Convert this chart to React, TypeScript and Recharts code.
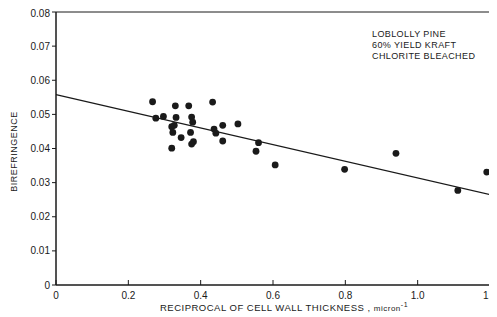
import {
  ScatterChart,
  Scatter,
  XAxis,
  YAxis,
  ReferenceLine,
  ReferenceArea,
  Label,
} from 'recharts'

// reciprocal of cell wall thickness (micron^-1) vs birefringence
const recipThickness = [
  0.267, 0.276, 0.297, 0.33, 0.367, 0.433, 0.332, 0.375, 0.378, 0.32, 0.327, 0.323, 0.346,
  0.372, 0.38, 0.375, 0.32, 0.437, 0.442, 0.461, 0.503, 0.461, 0.56, 0.553, 0.606, 0.798,
  0.94, 1.191, 1.111,
]
const birefringence = [
  0.0537, 0.0489, 0.0494, 0.0525, 0.0525, 0.0536, 0.0491, 0.0492, 0.0477, 0.0464, 0.0468,
  0.0447, 0.0432, 0.0447, 0.042, 0.0413, 0.0401, 0.0457, 0.0445, 0.0468, 0.0472, 0.0422,
  0.0417, 0.0392, 0.0352, 0.0339, 0.0386, 0.0331, 0.0277,
]

// fitted line end points
const fitX = [0, 1.2]
const fitY = [0.0558, 0.0265]

const xTicks = [0, 0.2, 0.4, 0.6, 0.8, 1.0, 1.2]
const yTicks = [0, 0.01, 0.02, 0.03, 0.04, 0.05, 0.06, 0.07, 0.08]

const notes = ['LOBLOLLY PINE', '60% YIELD KRAFT', 'CHLORITE BLEACHED']

const points = recipThickness.map((x, i) => ({ x, y: birefringence[i] }))

const FONT = '"Liberation Sans", Arial, sans-serif'
const INK = '#1a1a1a'

const fmtX = (v: number) => (v === 0 ? '0' : v.toFixed(1))
const fmtY = (v: number) => (v === 0 ? '0' : v.toFixed(2))

const Dot = (props: any) => <circle cx={props.cx} cy={props.cy} r={3.4} fill={INK} />

const XTitle = ({ viewBox }: any) => (
  <text
    x={viewBox.x + viewBox.width / 2 + 11}
    y={viewBox.y + 26}
    textAnchor="middle"
    fontFamily={FONT}
    fontSize={9.5}
    fill={INK}
    letterSpacing={0.5}
  >
    RECIPROCAL OF CELL WALL THICKNESS ,{' '}
    <tspan fontSize={8}>micron</tspan>
    <tspan fontSize={7} dy={-4}>-1</tspan>
  </text>
)

const YTitle = ({ viewBox }: any) => {
  const cx = 8.5
  const cy = viewBox.y + viewBox.height / 2 + 3
  return (
    <text
      x={cx}
      y={cy}
      transform={`rotate(-90, ${cx}, ${cy})`}
      textAnchor="middle"
      fontFamily={FONT}
      fontSize={9}
      fill={INK}
      letterSpacing={0.5}
    >
      BIREFRINGENCE
    </text>
  )
}

const Notes = ({ viewBox }: any) => (
  <text fontFamily={FONT} fontSize={9} fill={INK} letterSpacing={0.4}>
    {notes.map((n, i) => (
      <tspan key={n} x={viewBox.x + 316} y={viewBox.y + 25 + i * 11}>
        {n}
      </tspan>
    ))}
  </text>
)

export default function App() {
  return (
    <div style={{ width: 489, height: 309, background: '#fff' }}>
      <ScatterChart
        width={489}
        height={309}
        margin={{ top: 4, right: 7, bottom: 0, left: 0 }}
      >
        <XAxis
          dataKey="x"
          type="number"
          domain={[0, 1.2]}
          ticks={xTicks}
          tickFormatter={fmtX}
          height={32}
          stroke={INK}
          tickSize={-5}
          tickMargin={12}
          tick={{ fill: INK, fontSize: 10, fontFamily: FONT }}
          allowDataOverflow
        >
          <Label content={XTitle} />
        </XAxis>
        <YAxis
          dataKey="y"
          type="number"
          domain={[0, 0.08]}
          ticks={yTicks}
          tickFormatter={fmtY}
          width={48}
          stroke={INK}
          tickSize={4}
          tickMargin={2}
          tick={{ fill: INK, fontSize: 10, fontFamily: FONT }}
          allowDataOverflow
        >
          <Label content={YTitle} />
        </YAxis>
        <ReferenceArea
          x1={xTicks[0]}
          x2={xTicks[xTicks.length - 1]}
          y1={yTicks[0]}
          y2={yTicks[yTicks.length - 1]}
          fill="none"
          stroke={INK}
          strokeWidth={1}
          fillOpacity={0}
        >
          <Label content={Notes} />
        </ReferenceArea>
        <ReferenceLine
          segment={[
            { x: fitX[0], y: fitY[0] },
            { x: fitX[1], y: fitY[1] },
          ]}
          stroke={INK}
          strokeWidth={1.3}
          ifOverflow="visible"
        />
        <Scatter data={points} shape={Dot} isAnimationActive={false} />
      </ScatterChart>
    </div>
  )
}
